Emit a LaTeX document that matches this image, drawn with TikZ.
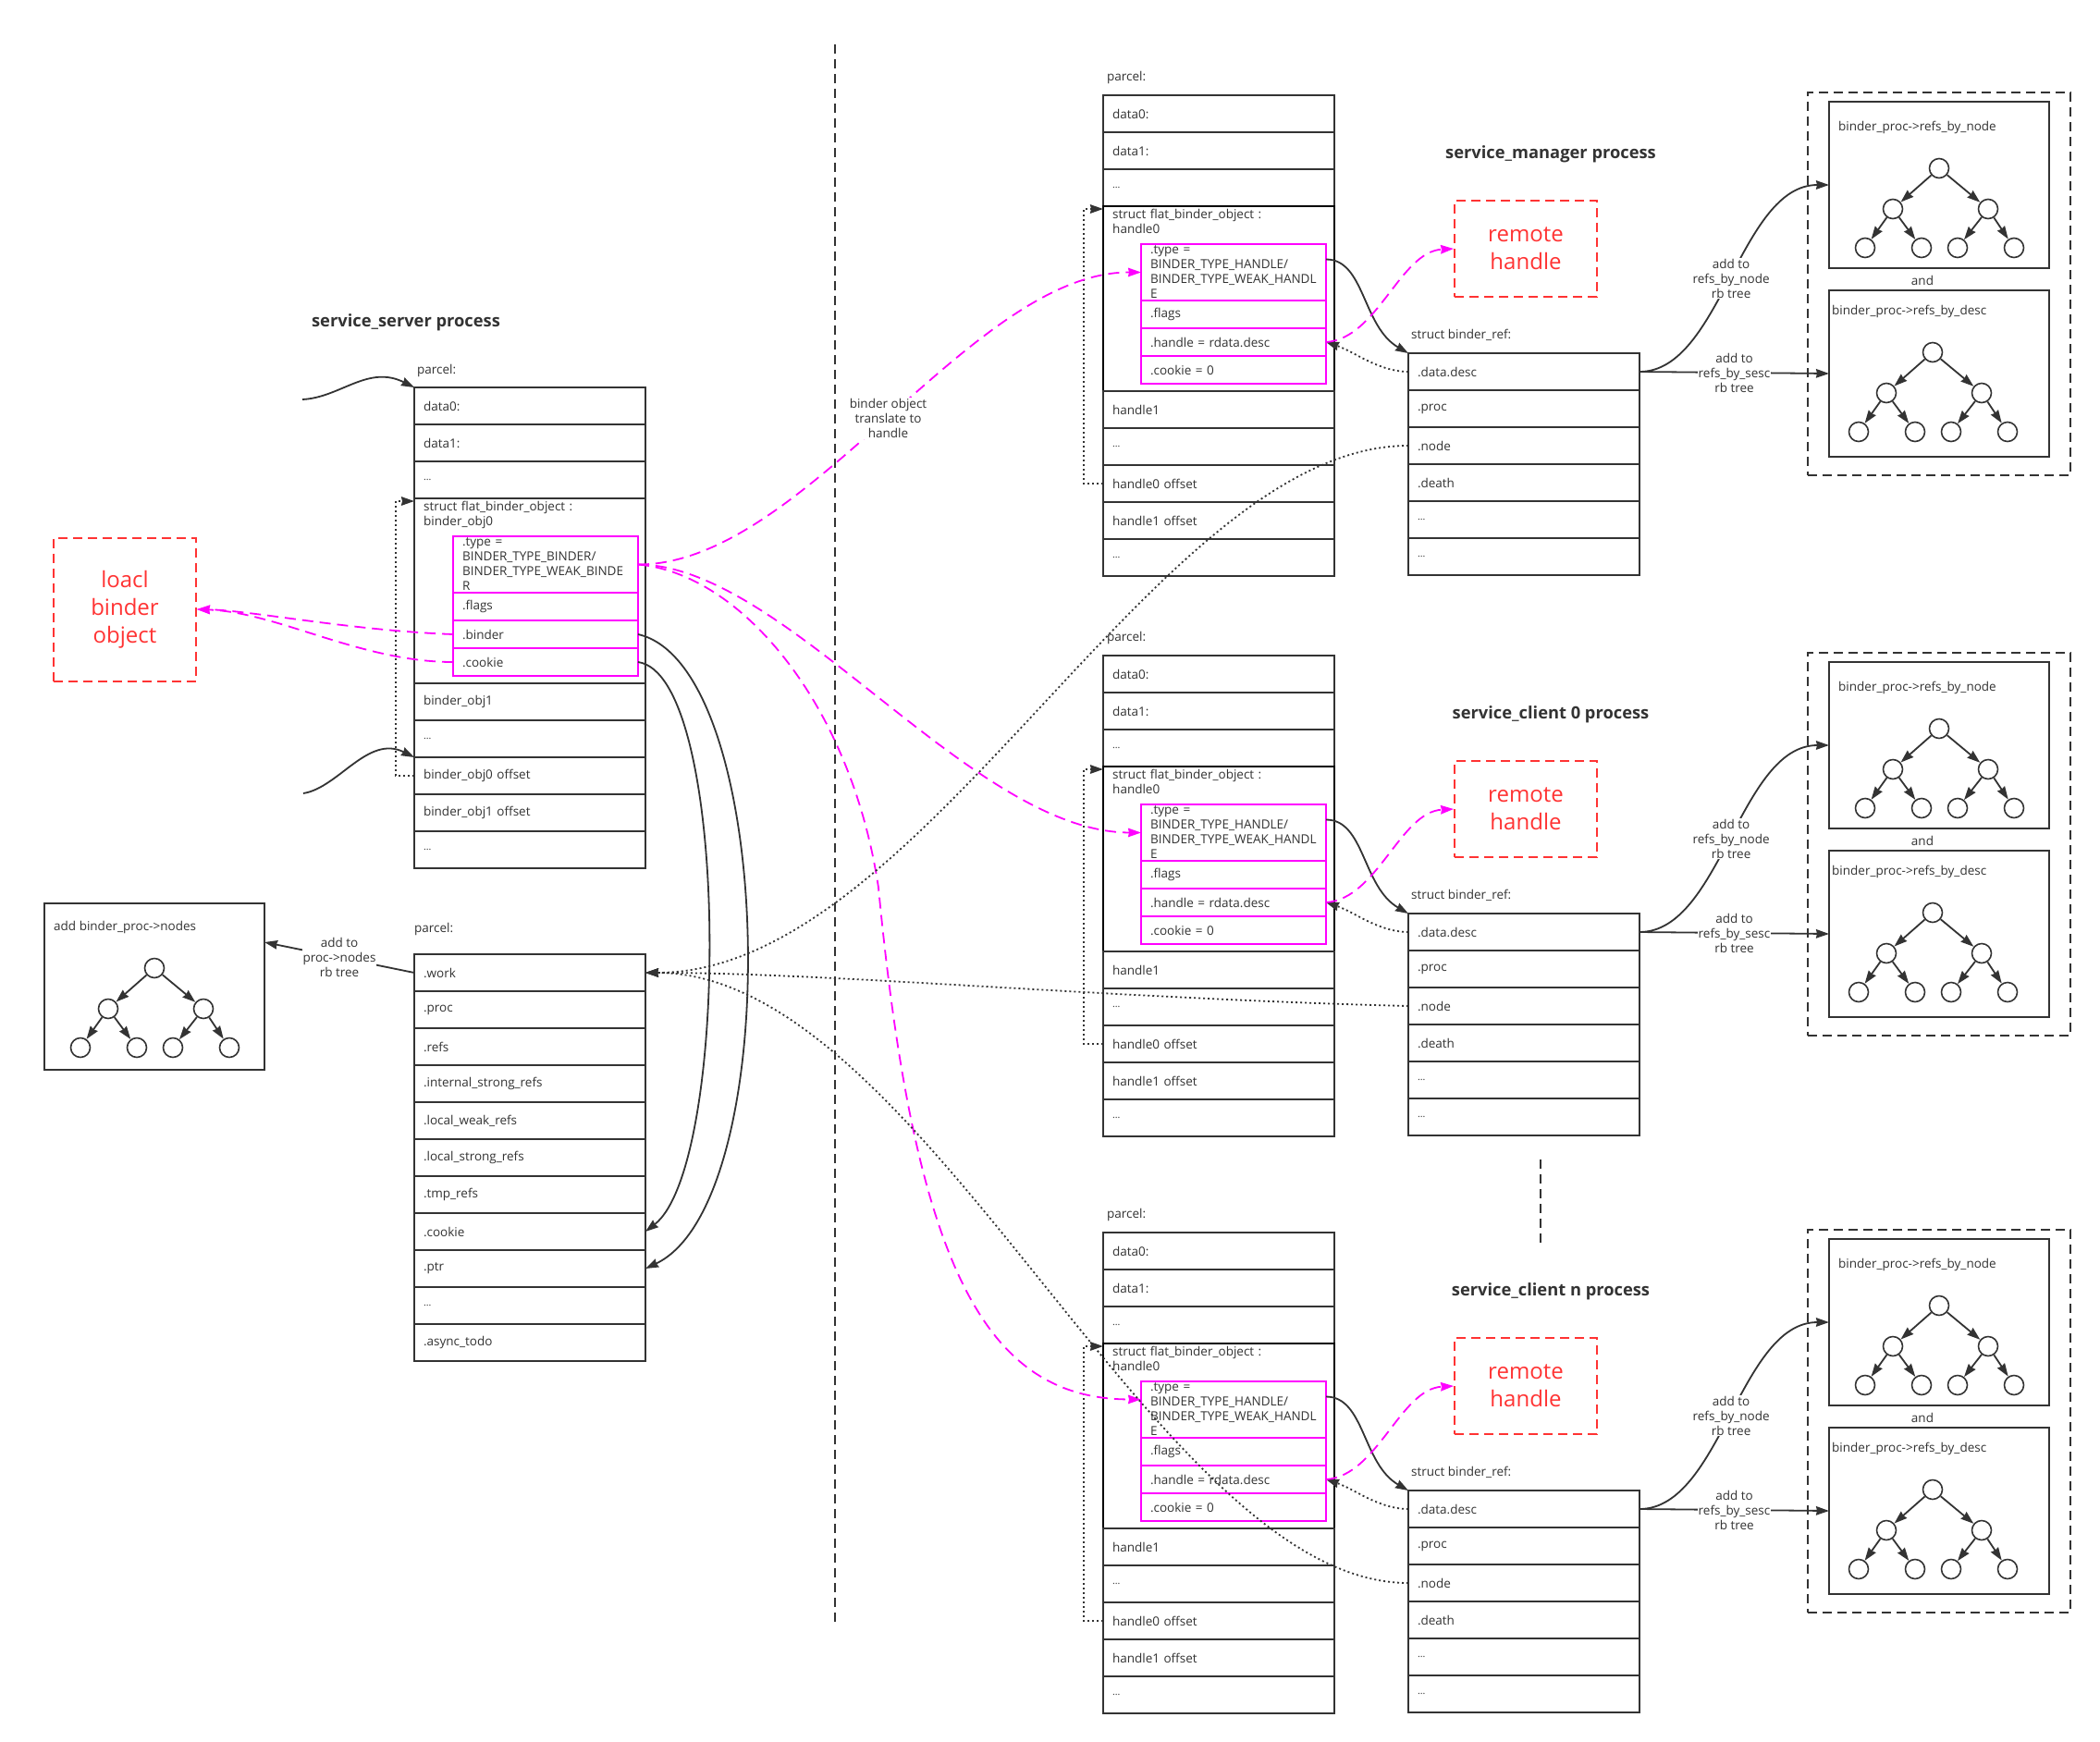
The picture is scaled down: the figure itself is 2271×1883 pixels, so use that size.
\documentclass[tikz,border=0pt]{standalone}
\usepackage{fontspec}
\setmainfont{Open Sans}
\usetikzlibrary{arrows.meta,positioning,calc}

\definecolor{ink}{HTML}{333333}
\definecolor{pink}{HTML}{FF00FF}
\definecolor{alert}{HTML}{FF3333}

\newcommand\rowfont{\fontsize{13.5}{16}\selectfont}
\newcommand\rowdots{{\fontsize{10.5}{11}\selectfont ...}}

% small rb tree: name prefix, x and y of the root
\newcommand\rbtree[3]{%
  \node[leaf] (#1r) at (#2,#3) {};
  \node[leaf] (#1a) at (#2-50,#3+44) {};
  \node[leaf] (#1b) at (#2+53,#3+44) {};
  \node[leaf] (#1c) at (#2-80,#3+86) {};
  \node[leaf] (#1d) at (#2-19,#3+86) {};
  \node[leaf] (#1e) at (#2+20,#3+86) {};
  \node[leaf] (#1f) at (#2+81,#3+86) {};
  \foreach \u/\v in {r/a,r/b,a/c,a/d,b/e,b/f}
    \draw[link] (#1\u) -- (#1\v);
}

\tikzset{
  cell/.style={draw=ink, line width=2pt, outer sep=0pt, minimum width=250pt,
    minimum height=40pt, inner xsep=10pt, inner ysep=0pt, text width=230pt,
    align=left, font=\rowfont, text=ink},
  pinkcell/.style={cell, draw=pink, minimum width=200pt, minimum height=30pt, text width=180pt},
  note/.style={inner sep=0pt, anchor=west, font=\rowfont, text=ink},
  heading/.style={inner sep=0pt, font=\fontsize{18.3}{21}\selectfont\bfseries, text=ink},
  redbox/.style={draw=alert, line width=2pt, dash pattern=on 10pt off 6pt, text=alert,
    align=center, font=\fontsize{24}{30}\selectfont, minimum width=154pt},
  groupbox/.style={draw=ink, line width=2pt, dash pattern=on 10pt off 6pt,
    inner sep=0pt, outer sep=0pt, minimum width=284pt, minimum height=414pt},
  treebox/.style={draw=ink, line width=2pt, inner sep=0pt, outer sep=0pt,
    minimum width=238pt, minimum height=180pt},
  leaf/.style={circle, draw=ink, line width=1.6pt, minimum size=21pt, inner sep=0pt},
  link/.style={->, draw=ink, line width=1.8pt},
  ptr/.style={->, draw=ink, line width=1.8pt, dash pattern=on 2pt off 3pt},
  xlate/.style={->, draw=pink, line width=1.8pt, dash pattern=on 12pt off 7pt},
  tag/.style={fill=white, inner sep=1pt, align=center, font=\rowfont, text=ink},
  divider/.style={draw=ink, line width=2pt, dash pattern=on 10pt off 6pt},
}

\begin{document}
\begin{tikzpicture}[x=1pt, y=-1pt, >={Stealth[length=14pt,width=9.5pt,inset=1pt]}]
\path[fill=white, use as bounding box] (0,0) rectangle (2271,1883);

% ---------- service_server process ----------
\node[heading] (sv-title) at (439,349) {service\_server process};
\node[note] (sv-parcel) at (451,401) {parcel:};
\node[cell, anchor=north] (sv-data0) at (573,419) {data0:};
\node[cell, below=0pt of sv-data0] (sv-data1) {data1:};
\node[cell, below=0pt of sv-data1] (sv-etc0) {\rowdots};
\node[cell, below=0pt of sv-etc0, minimum height=200pt] (sv-fbo) {};
\node[note, anchor=north west, text width=230pt, align=left] (sv-fbo-txt)
  at ($(sv-fbo.north west)+(10,3)$) {struct flat\_binder\_object :\\binder\_obj0};
\node[cell, below=0pt of sv-fbo] (sv-obj1) {binder\_obj1};
\node[cell, below=0pt of sv-obj1] (sv-etc1) {\rowdots};
\node[cell, below=0pt of sv-etc1] (sv-off0) {binder\_obj0 offset};
\node[cell, below=0pt of sv-off0] (sv-off1) {binder\_obj1 offset};
\node[cell, below=0pt of sv-off1] (sv-etc2) {\rowdots};

\node[pinkcell, anchor=north west, minimum height=61pt] (sv-type)
  at ($(sv-fbo.north west)+(42,41)$) {};
\node[note, anchor=center, text width=180pt, align=left] (sv-type-txt) at (sv-type)
  {.type =\\BINDER\_TYPE\_BINDER/\\BINDER\_TYPE\_WEAK\_BINDE\\R};
\node[pinkcell, below=0pt of sv-type] (sv-flags) {.flags};
\node[pinkcell, below=0pt of sv-flags] (sv-binder) {.binder};
\node[pinkcell, below=0pt of sv-binder] (sv-cookie) {.cookie};

\node[note] (sv-parcel2) at (448,1005) {parcel:};
\node[cell, anchor=north] (sv-work) at (573,1032) {.work};
\node[cell, below=0pt of sv-work] (sv-proc) {.proc};
\node[cell, below=0pt of sv-proc] (sv-refs) {.refs};
\node[cell, below=0pt of sv-refs] (sv-isr) {.internal\_strong\_refs};
\node[cell, below=0pt of sv-isr] (sv-lwr) {.local\_weak\_refs};
\node[cell, below=0pt of sv-lwr] (sv-lsr) {.local\_strong\_refs};
\node[cell, below=0pt of sv-lsr] (sv-tmp) {.tmp\_refs};
\node[cell, below=0pt of sv-tmp] (sv-cookie2) {.cookie};
\node[cell, below=0pt of sv-cookie2] (sv-ptr) {.ptr};
\node[cell, below=0pt of sv-ptr] (sv-etc3) {\rowdots};
\node[cell, below=0pt of sv-etc3] (sv-todo) {.async\_todo};

\node[redbox, minimum height=155pt] (local) at (135,659) {loacl\\binder\\object};

\node[treebox, anchor=north west] (nodes-box) at (48,977) {};
\node[note] (nodes-txt) at (58,1003) {add binder\_proc->nodes};
\rbtree{nd-}{167}{1047}
\coordinate (nodes-in) at ($(nodes-box.north east)+(0,42)$);
\draw[link] (sv-work.west) -- (nodes-in) node[tag, midway] {add to\\proc->nodes\\rb tree};

\coordinate (in0) at (327,432);
\coordinate (in1) at (328,858);
\draw[link] (in0) .. controls (368,430) and (398,394) .. (sv-data0.north west);
\draw[link] (in1) .. controls (366,852) and (398,794) .. (sv-off0.north west);
\draw[ptr] (sv-off0.west) -- ++(-20,0) |- ([yshift=-3pt]sv-fbo.north west);

\draw[xlate] (sv-binder.west) .. controls (380,682) and (270,660) .. (local.east);
\draw[xlate] (sv-cookie.west) .. controls (390,716) and (300,662) .. (local.east);

\draw[link] (sv-binder.east) .. controls (840,720) and (850,1300) .. (sv-ptr.east);
\draw[link] (sv-cookie.east) .. controls (790,730) and (790,1260) .. (sv-cookie2.east);

\draw[divider] (903,48) -- (903,1756);
\draw[divider] (1666,1254) -- (1666,1344);

% ---------- service_manager / service_client processes ----------
\foreach \p/\dy/\ttl in {mgr/0/service\_manager process,
    cl0/606/service\_client 0 process, cln/1230/service\_client n process}{
  \node[heading] (\p-title) at (1677,167+\dy) {\ttl};
  \node[note] (\p-parcel) at (1197,84+\dy) {parcel:};
  \node[cell, anchor=north] (\p-data0) at (1318,103+\dy) {data0:};
  \node[cell, below=0pt of \p-data0] (\p-data1) {data1:};
  \node[cell, below=0pt of \p-data1] (\p-etc0) {\rowdots};
  \node[cell, below=0pt of \p-etc0, minimum height=200pt, draw=black] (\p-fbo) {};
  \node[note, anchor=north west, text width=230pt, align=left] (\p-fbo-txt)
    at ($(\p-fbo.north west)+(10,3)$) {struct flat\_binder\_object :\\handle0};
  \node[cell, below=0pt of \p-fbo] (\p-h1) {handle1};
  \node[cell, below=0pt of \p-h1] (\p-etc1) {\rowdots};
  \node[cell, below=0pt of \p-etc1] (\p-off0) {handle0 offset};
  \node[cell, below=0pt of \p-off0] (\p-off1) {handle1 offset};
  \node[cell, below=0pt of \p-off1] (\p-etc2) {\rowdots};

  \node[pinkcell, anchor=north west, minimum height=61pt] (\p-type)
    at ($(\p-fbo.north west)+(41,41)$) {};
  \node[note, anchor=center, text width=180pt, align=left] (\p-type-txt) at (\p-type)
    {.type =\\BINDER\_TYPE\_HANDLE/\\BINDER\_TYPE\_WEAK\_HANDL\\E};
  \node[pinkcell, below=0pt of \p-type] (\p-flags) {.flags};
  \node[pinkcell, below=0pt of \p-flags] (\p-handle) {.handle = rdata.desc};
  \node[pinkcell, below=0pt of \p-handle] (\p-cookie) {.cookie = 0};

  \draw[ptr] (\p-off0.west) -- ++(-21,0) |- ([yshift=-3pt]\p-fbo.north west);

  \node[redbox, minimum height=104pt] (\p-remote) at (1650,269+\dy) {remote\\handle};

  \node[note] (\p-ref-txt) at (1526,362+\dy) {struct binder\_ref:};
  \node[cell, anchor=north] (\p-desc) at (1648,382+\dy) {.data.desc};
  \node[cell, below=0pt of \p-desc] (\p-proc) {.proc};
  \node[cell, below=0pt of \p-proc] (\p-node) {.node};
  \node[cell, below=0pt of \p-node] (\p-death) {.death};
  \node[cell, below=0pt of \p-death] (\p-etc3) {\rowdots};
  \node[cell, below=0pt of \p-etc3] (\p-etc4) {\rowdots};

  \draw[link] ([yshift=14pt]\p-type.east) .. controls +(42,0) and +(-50,-29) .. (\p-desc.north west);
  \draw[ptr] (\p-desc.west) .. controls +(-32,0) and +(30,10) .. (\p-handle.east);
  \draw[xlate] (\p-handle.east) .. controls +(56,-4) and +(-58,3) .. (\p-remote.west);

  \node[groupbox, anchor=north west] (\p-refs) at (1955,100+\dy) {};
  \node[treebox, anchor=north west] (\p-bynode) at (1978,110+\dy) {};
  \node[treebox, anchor=north west] (\p-bydesc) at (1978,314+\dy) {};
  \node[note] (\p-bynode-txt) at (1988,138+\dy) {binder\_proc->refs\_by\_node};
  \node[note] (\p-bydesc-txt) at (1981,337+\dy) {binder\_proc->refs\_by\_desc};
  \node[note, anchor=center] (\p-and) at (2079,303+\dy) {and};
  \rbtree{\p-a}{2097}{182+\dy}
  \rbtree{\p-b}{2090}{381+\dy}

  \draw[link] (\p-desc.east) .. controls +(88,0) and +(-97,0) .. (\p-bynode.west)
    node[tag, pos=0.5] {add to\\refs\_by\_node\\rb tree};
  \draw[link] (\p-desc.east) -- (\p-bydesc.west)
    node[tag, midway] {add to\\refs\_by\_sesc\\rb tree};
}

% ---------- binder object translated to handles ----------
\draw[xlate] (sv-type.east) .. controls (870,611) and (1050,294) .. (mgr-type.west)
  node[tag, pos=0.5] {binder object\\translate to\\handle};
\draw[xlate] (sv-type.east) .. controls (850,611) and (1050,900) .. (cl0-type.west);
\draw[xlate] (sv-type.east) .. controls (800,620) and (920,760) .. (950,960)
  .. controls (990,1380) and (1070,1513) .. ([yshift=11pt]cln-type.west);

% ---------- refs pointing back to the binder node ----------
\draw[ptr] (mgr-node.west) .. controls (1250,482) and (1000,1052) .. (sv-work.east);
\draw[ptr] (cl0-node.west) .. controls (1200,1080) and (900,1052) .. (sv-work.east);
\draw[ptr] (cln-node.west) .. controls (1250,1712) and (1000,1052) .. (sv-work.east);
\end{tikzpicture}
\end{document}
